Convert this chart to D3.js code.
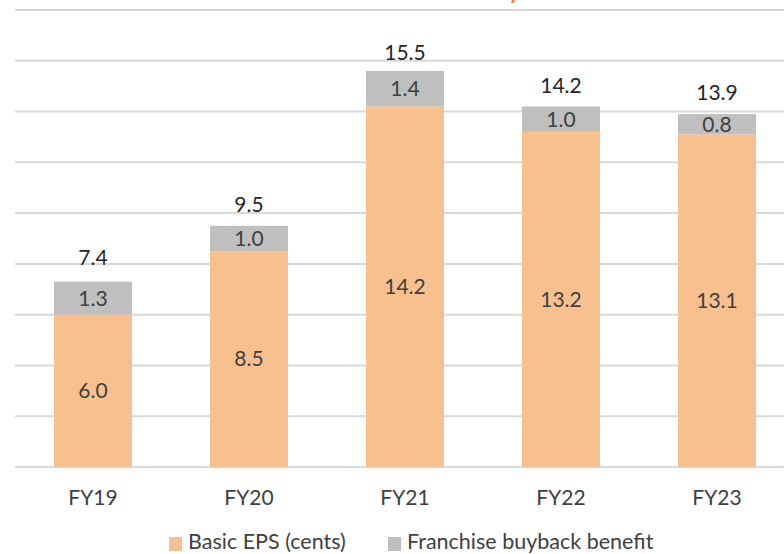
<!DOCTYPE html>
<html>
<head>
<meta charset="utf-8">
<script src="https://cdn.jsdelivr.net/npm/d3@7"></script>
<style>
  html, body { margin: 0; padding: 0; background: #fff; }
  svg { display: block; }
  text { font-family: Lato, "Open Sans", sans-serif; }
</style>
</head>
<body>
<svg id="chart" width="784" height="554"></svg>
<script>
// Earnings per share by financial year (cents)
const years = ["FY19", "FY20", "FY21", "FY22", "FY23"];
const basicEps = [6.0, 8.5, 14.2, 13.2, 13.1];
const buybackBenefit = [1.3, 1.0, 1.4, 1.0, 0.8];
const totals = [7.4, 9.5, 15.5, 14.2, 13.9];
const gridTicks = [0, 2, 4, 6, 8, 10, 12, 14, 16, 18];
const seriesNames = ["Basic EPS (cents)", "Franchise buyback benefit"];

const colors = { basic: "#F9C08F", buyback: "#BFBFBF", grid: "#D9D9D9", text: "#404040", title: "#F4801F" };
const FS = 21;

const svg = d3.select("#chart");
const W = 784;

const x = d3.scaleBand().domain(years).range([15, 795]).paddingInner(0.5).paddingOuter(0.25);
const y = d3.scaleLinear().domain([0, 18]).range([467, 10]);

// Chart heading, placed above the top edge so only its lowest stroke shows
svg.append("text")
  .attr("x", 520).attr("y", -1)
  .attr("text-anchor", "end")
  .attr("fill", colors.title)
  .attr("font-weight", "bold")
  .attr("font-size", 22)
  .text("EPS history");

// Horizontal gridlines
svg.append("g").selectAll("line").data(gridTicks).join("line")
  .attr("x1", 15).attr("x2", W)
  .attr("y1", d => y(d)).attr("y2", d => y(d))
  .attr("stroke", colors.grid).attr("stroke-width", 2);

const rows = years.map((yr, i) => ({ year: yr, basic: basicEps[i], buyback: buybackBenefit[i], total: totals[i] }));
const stack = d3.stack().keys(["basic", "buyback"])(rows);
const fills = [colors.basic, colors.buyback];

const layers = svg.append("g").selectAll("g").data(stack).join("g")
  .attr("fill", (d, i) => fills[i]);

layers.selectAll("rect").data(d => d).join("rect")
  .attr("x", d => x(d.data.year))
  .attr("width", x.bandwidth())
  .attr("y", d => y(d[1]))
  .attr("height", d => y(d[0]) - y(d[1]));

// Segment value labels
stack.forEach(layer => {
  svg.append("g").selectAll("text").data(layer).join("text")
    .attr("x", d => x(d.data.year) + x.bandwidth() / 2)
    .attr("y", d => (y(d[0]) + y(d[1])) / 2)
    .attr("dy", "0.35em")
    .attr("text-anchor", "middle")
    .attr("fill", colors.text)
    .attr("font-size", FS)
    .text(d => d.data[layer.key].toFixed(1));
});

// Total labels above each bar
svg.append("g").selectAll("text").data(rows).join("text")
  .attr("x", d => x(d.year) + x.bandwidth() / 2)
  .attr("y", d => y(d.total) - 21)
  .attr("dy", "0.35em")
  .attr("text-anchor", "middle")
  .attr("fill", "#262626")
  .attr("font-size", FS)
  .text(d => d.total.toFixed(1));

// Category axis
const xAxis = svg.append("g").attr("transform", "translate(0,467)")
  .call(d3.axisBottom(x).tickSize(0).tickPadding(23));
xAxis.select(".domain").remove();
xAxis.selectAll("text")
  .attr("fill", colors.text)
  .attr("font-size", FS)
  .style("font-family", "Lato, 'Open Sans', sans-serif");

// Legend
const legend = svg.append("g");
const legendItems = [
  { name: seriesNames[0], color: colors.basic, x: 169 },
  { name: seriesNames[1], color: colors.buyback, x: 388 }
];
legendItems.forEach(it => {
  legend.append("rect").attr("x", it.x).attr("y", 537).attr("width", 13).attr("height", 14).attr("fill", it.color);
  legend.append("text").attr("x", it.x + 19).attr("y", 549)
    .attr("fill", colors.text).attr("font-size", 21.5).text(it.name);
});
</script>
</body>
</html>
